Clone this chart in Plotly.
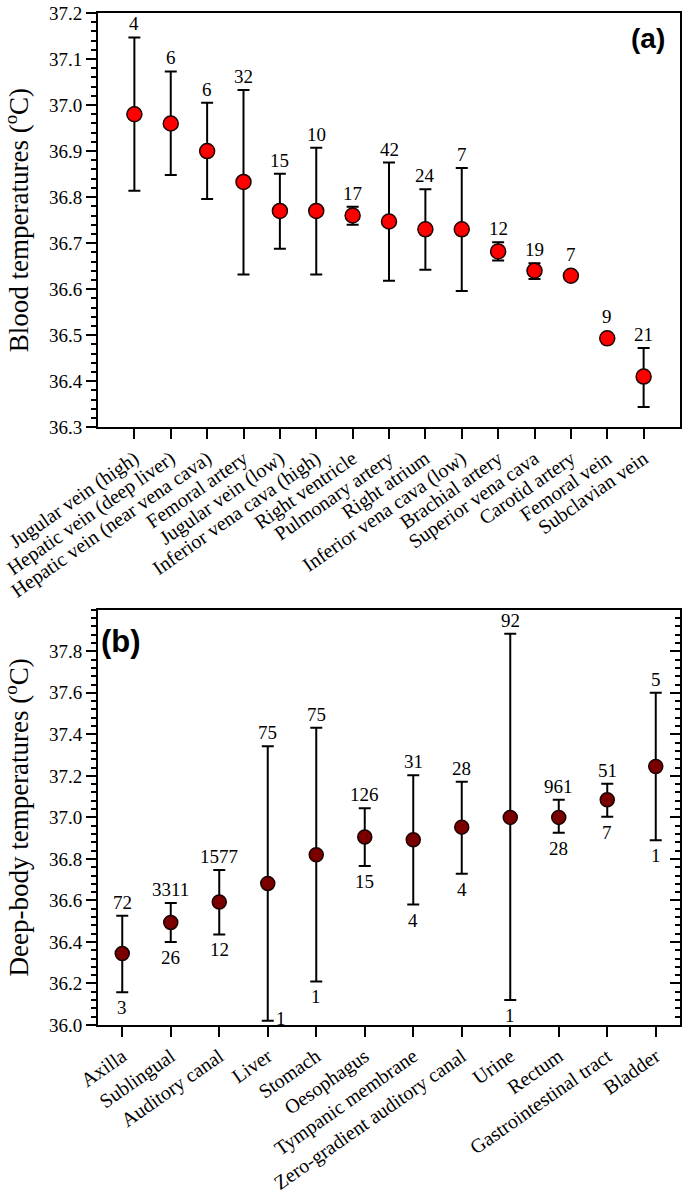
import plotly.graph_objects as go

# ---------------- Panel (a): blood temperatures ----------------
blood_sites = ["Jugular vein (high)", "Hepatic vein (deep liver)", "Hepatic vein (near vena cava)",
               "Femoral artery", "Jugular vein (low)", "Inferior vena cava (high)", "Right ventricle",
               "Pulmonary artery", "Right atrium", "Inferior vena cava (low)", "Brachial artery",
               "Superior vena cava", "Carotid artery", "Femoral vein", "Subclavian vein"]
blood_mean = [36.98, 36.96, 36.90, 36.833, 36.77, 36.77, 36.76, 36.747, 36.73, 36.73,
              36.682, 36.64, 36.629, 36.493, 36.41]
blood_upper = [37.147, 37.073, 37.005, 37.033, 36.851, 36.907, 36.779, 36.875, 36.817, 36.863,
               36.702, 36.656, 36.629, 36.493, 36.472]
blood_lower = [36.814, 36.848, 36.796, 36.632, 36.688, 36.632, 36.740, 36.618, 36.642, 36.596,
               36.662, 36.622, 36.629, 36.493, 36.344]
blood_n = ["4", "6", "6", "32", "15", "10", "17", "42", "24", "7", "12", "19", "7", "9", "21"]
blood_ticks = [36.3, 36.4, 36.5, 36.6, 36.7, 36.8, 36.9, 37.0, 37.1, 37.2]

# ---------------- Panel (b): deep-body temperatures ----------------
body_sites = ["Axilla", "Sublingual", "Auditory canal", "Liver", "Stomach", "Oesophagus",
              "Tympanic membrane", "Zero-gradient auditory canal", "Urine", "Rectum",
              "Gastrointestinal tract", "Bladder"]
body_mean = [36.344, 36.494, 36.592, 36.682, 36.82, 36.905, 36.892, 36.953, 37.0, 37.0, 37.085, 37.245]
body_upper = [36.526, 36.588, 36.747, 37.343, 37.432, 37.044, 37.203, 37.172, 37.885, 37.085, 37.162, 37.6]
body_lower = [36.158, 36.40, 36.436, 36.02, 36.21, 36.766, 36.58, 36.728, 36.12, 36.926, 37.003, 36.89]
body_n_upper = ["72", "3311", "1577", "75", "75", "126", "31", "28", "92", "961", "51", "5"]
body_n_lower = ["3", "26", "12", "1", "1", "15", "4", "4", "1", "28", "7", "1"]
body_ticks = [36.0, 36.2, 36.4, 36.6, 36.8, 37.0, 37.2, 37.4, 37.6, 37.8]

SERIF = "Liberation Serif"
SANS = "Liberation Sans"

fig = go.Figure()

xa = list(range(len(blood_sites)))
fig.add_trace(go.Scatter(
    x=xa, y=blood_mean, mode="markers", xaxis="x", yaxis="y",
    marker=dict(size=15, color="#ff0000", line=dict(width=1.5, color="#1a0000")),
    error_y=dict(type="data", symmetric=False,
                 array=[u - m for u, m in zip(blood_upper, blood_mean)],
                 arrayminus=[m - l for m, l in zip(blood_mean, blood_lower)],
                 thickness=2, width=6, color="black"),
    showlegend=False, hoverinfo="skip"))

xb = list(range(len(body_sites)))
fig.add_trace(go.Scatter(
    x=xb, y=body_mean, mode="markers", xaxis="x2", yaxis="y2",
    marker=dict(size=14, color="#7a0000", line=dict(width=1.5, color="#1a0000")),
    error_y=dict(type="data", symmetric=False,
                 array=[u - m for u, m in zip(body_upper, body_mean)],
                 arrayminus=[m - l for m, l in zip(body_mean, body_lower)],
                 thickness=2, width=6, color="black"),
    showlegend=False, hoverinfo="skip"))

NFONT = dict(family=SERIF, size=19, color="black")
annotations = []
for i, (n, m, u) in enumerate(zip(blood_n, blood_mean, blood_upper)):
    has_bar = (u - m) > 0.0005
    annotations.append(dict(x=i, y=u, xref="x", yref="y", text=n, showarrow=False,
                            yanchor="bottom", yshift=1 if has_bar else 9, font=NFONT))

for i, (nu, nl, u, l) in enumerate(zip(body_n_upper, body_n_lower, body_upper, body_lower)):
    annotations.append(dict(x=i, y=u, xref="x2", yref="y2", text=nu, showarrow=False,
                            yanchor="bottom", yshift=1, font=NFONT))
    if body_sites[i] == "Liver":
        annotations.append(dict(x=i, y=l, xref="x2", yref="y2", text=nl, showarrow=False,
                                xanchor="left", yanchor="middle", xshift=6, yshift=2, font=NFONT))
    else:
        annotations.append(dict(x=i, y=l, xref="x2", yref="y2", text=nl, showarrow=False,
                                yanchor="top", yshift=-3, font=NFONT))

annotations.append(dict(x=0.978, y=0.992, xref="paper", yref="paper", text="<b>(a)</b>",
                        showarrow=False, xanchor="right", yanchor="top",
                        font=dict(family=SANS, size=28, color="black")))
annotations.append(dict(x=0.002, y=0.398, xref="paper", yref="paper", text="<b>(b)</b>",
                        showarrow=False, xanchor="left", yanchor="top",
                        font=dict(family=SANS, size=31, color="black")))

ytickfont = dict(family=SERIF, size=19, color="black")
xtickfont = dict(family=SERIF, size=20, color="black")
common_x = dict(showline=True, linewidth=2, linecolor="black", mirror=True,
                ticks="outside", ticklen=10, tickwidth=2, tickcolor="black",
                showgrid=False, zeroline=False, tickangle=-35, tickfont=xtickfont)

fig.update_layout(
    width=685, height=1198,
    font=dict(family=SERIF, color="black"),
    margin=dict(l=95, r=3, t=8, b=159),
    paper_bgcolor="white", plot_bgcolor="white",
    annotations=annotations,
    xaxis=dict(domain=[0, 1], anchor="y", range=[-1, 15.0], tickmode="array",
               tickvals=xa, ticktext=blood_sites, **common_x),
    yaxis=dict(domain=[0.5907, 1.0], anchor="x", range=[36.2999, 37.2001], tickmode="array",
               tickvals=blood_ticks, ticktext=[f"{v:.1f}" for v in blood_ticks],
               ticklabeloverflow="allow",
               showline=True, linewidth=2, linecolor="black", mirror=True,
               ticks="outside", ticklen=10, tickwidth=2, tickcolor="black",
               minor=dict(tick0=36.3, dtick=0.02, ticks="outside", ticklen=5, tickwidth=1.5,
                          tickcolor="black"),
               showgrid=False, zeroline=False, tickfont=ytickfont,
               title=dict(text="Blood temperatures (<sup>o</sup>C)", standoff=12,
                          font=dict(family=SERIF, size=27, color="black"))),
    xaxis2=dict(domain=[0, 1], anchor="y2", range=[-0.5, 11.5], tickmode="array",
                tickvals=xb, ticktext=body_sites, **common_x),
    yaxis2=dict(domain=[0, 0.4103], anchor="x2", range=[35.9999, 38.0], tickmode="array",
                tickvals=body_ticks, ticktext=[f"{v:.1f}" for v in body_ticks],
                ticklabeloverflow="allow",
                showline=True, linewidth=2, linecolor="black", mirror=True,
                ticks="outside", ticklen=10, tickwidth=2, tickcolor="black",
                minor=dict(tick0=36.0, dtick=0.04, ticks="outside", ticklen=5, tickwidth=1.5,
                           tickcolor="black"),
                showgrid=False, zeroline=False, tickfont=ytickfont,
                title=dict(text="Deep-body temperatures (<sup>o</sup>C)", standoff=12,
                           font=dict(family=SERIF, size=27, color="black"))),
    yaxis3=dict(overlaying="y2", side="right", anchor="x2", range=[35.9999, 38.0],
                tickmode="array", tickvals=body_ticks, showticklabels=False,
                ticks="inside", ticklen=10, tickwidth=2, tickcolor="black",
                minor=dict(tick0=36.0, dtick=0.04, ticks="inside", ticklen=5, tickwidth=1.5,
                           tickcolor="black"),
                showgrid=False, zeroline=False, showline=False),
)

# invisible trace to activate the right-hand tick axis of panel (b)
fig.add_trace(go.Scatter(x=[0], y=[36.0], xaxis="x2", yaxis="y3", mode="markers",
                         marker=dict(opacity=0), showlegend=False, hoverinfo="skip"))

fig.write_html("out.html", config={"displayModeBar": False},
               post_script="document.body.style.margin='0';document.body.style.overflow='hidden';")
